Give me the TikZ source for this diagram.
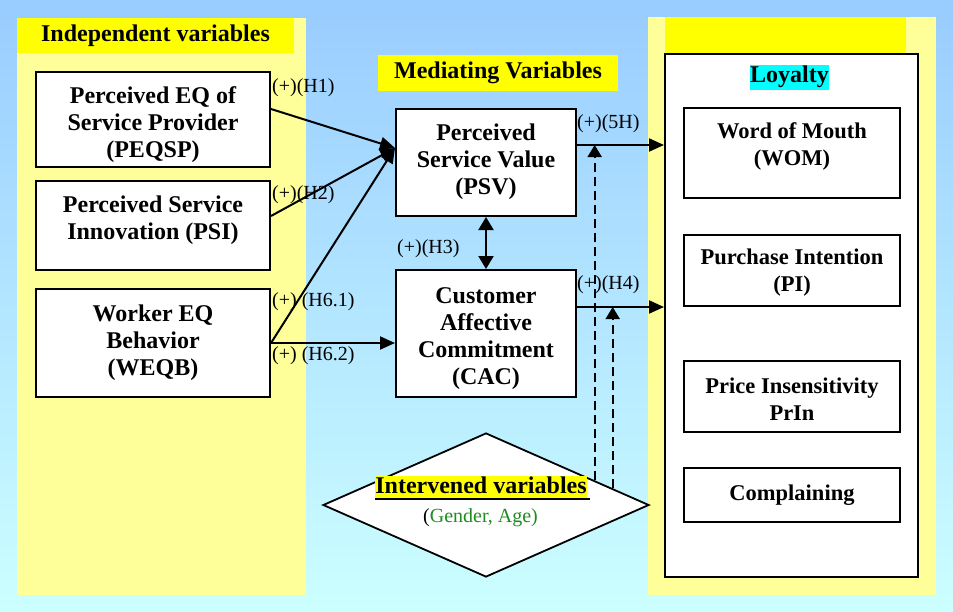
\documentclass[tikz,border=0pt]{standalone}
\usepackage{fontspec}
\setmainfont{Liberation Serif}
\usetikzlibrary{arrows.meta,shapes.geometric,calc}
\definecolor{skytop}{HTML}{99CCFF}
\definecolor{skybot}{HTML}{CCFFFF}
\definecolor{paleyel}{HTML}{FFFF99}
\definecolor{hdryel}{HTML}{FFFF00}
\definecolor{loycyan}{HTML}{00FFFF}
\definecolor{agegreen}{HTML}{1E8C1E}

\begin{document}
\begin{tikzpicture}[x=1pt,y=-1pt,
  bigfont/.style={font=\bfseries\fontsize{24}{27}\selectfont},
  subfont/.style={font=\bfseries\fontsize{22.5}{27}\selectfont},
  hdr/.style={fill=hdryel,inner sep=0pt,bigfont},
  box/.style={draw,fill=white,line width=2pt,inner sep=0pt},
  txt/.style={inner sep=0pt,align=center},
  lbl/.style={inner sep=0pt,anchor=west,font=\fontsize{20}{22}\selectfont},
  conn/.style={line width=2pt,-{Triangle[length=15pt,width=13pt]}},
  dbl/.style={line width=2pt,{Triangle[length=13pt,width=15pt]}-{Triangle[length=13pt,width=15pt]}},
  dashlink/.style={line width=2pt,dash pattern=on 9pt off 5pt,-{Triangle[length=12pt,width=14pt]}}
]
\useasboundingbox (0,0) rectangle (953,611);
% sky gradient background
\shade[top color=skytop,bottom color=skybot] (0,0) rectangle (953,611);

% side panels
\fill[paleyel] (17,18) rectangle (306,595);
\fill[paleyel] (648,17) rectangle (936,595);

% panel headers
\node[hdr,minimum width=277pt,minimum height=35pt] (indephdr) at (155.5,35.5) {Independent variables};
\node[hdr,minimum width=240pt,minimum height=36pt] (medhdr) at (498,73) {Mediating Variables};
\node[hdr,minimum width=241pt,minimum height=36pt] (loyhdr) at (785.5,35) {};

% independent variables
\node[box,minimum width=234pt,minimum height=95pt] (peqsp) at (153,119.5) {};
\node[txt,bigfont] (peqsptext) at (153,125) {Perceived EQ of\\Service Provider\\(PEQSP)};
\node[box,minimum width=234pt,minimum height=89pt] (psi) at (153,225.5) {};
\node[txt,bigfont] (psitext) at (153,220.5) {Perceived Service\\Innovation (PSI)};
\node[box,minimum width=234pt,minimum height=108pt] (weqb) at (153,343) {};
\node[txt,bigfont] (weqbtext) at (153,343) {Worker EQ\\Behavior\\(WEQB)};

% mediating variables
\node[box,minimum width=180pt,minimum height=107pt] (psv) at (486,162.5) {};
\node[txt,bigfont] (psvtext) at (486,162) {Perceived\\Service Value\\(PSV)};
\node[box,minimum width=180pt,minimum height=127pt] (cac) at (486,333.5) {};
\node[txt,bigfont] (cactext) at (486,339) {Customer\\Affective\\Commitment\\(CAC)};

% loyalty block
\node[box,minimum width=253pt,minimum height=523pt] (loyal) at (791.5,315.5) {};
\node[fill=loycyan,inner sep=0.5pt,text height=17pt,text depth=7pt,bigfont] (loytitle) at (789.5,77) {Loyalty};
\node[box,minimum width=216pt,minimum height=90pt] (wom) at (792,153) {};
\node[txt,subfont] (womtext) at (792,146) {Word of Mouth\\(WOM)};
\node[box,minimum width=216pt,minimum height=71pt] (pi) at (792,270) {};
\node[txt,subfont] (pitext) at (792,272.5) {Purchase Intention\\(PI)};
\node[box,minimum width=216pt,minimum height=71pt] (prin) at (792,396.5) {};
\node[txt,subfont] (printext) at (792,399) {Price Insensitivity\\PrIn};
\node[box,minimum width=216pt,minimum height=54pt] (compl) at (792,495) {};
\node[txt,subfont] (compltext) at (792,495) {Complaining};

% intervening variables
\node[diamond,draw,fill=white,line width=1.8pt,inner sep=0pt,minimum width=326pt,minimum height=144pt] (moder) at (486,505) {};
\node[fill=hdryel,inner sep=0pt,text height=17pt,text depth=7pt,bigfont] (ivtitle) at (481,488) {Intervened variables};
\draw[line width=2pt] ([yshift=1.5pt]ivtitle.south west) -- ([xshift=3pt,yshift=1.5pt]ivtitle.south east);
\node[txt,font=\fontsize{20}{22}\selectfont] (ivsub) at (480.5,518) {(\textcolor{agegreen}{Gender, Age)}};

% paths into PSV
\coordinate (psvin) at ([yshift=14.5pt]psv.west);
\draw[conn] ([yshift=10.5pt]peqsp.east) -- (psvin);
\draw[conn] ([yshift=9.5pt]psi.east) -- (psvin);
\draw[conn] (weqb.east) -- (psvin);
\draw[conn] (weqb.east) -- (weqb.east -| cac.west);
\draw[dbl] (psv.south) -- (cac.north);

% paths into loyalty
\coordinate (psvout) at ([yshift=17.5pt]psv.east);
\coordinate (cacout) at ([yshift=26.5pt]cac.east);
\draw[conn] (psvout) -- (psvout -| loyal.west);
\draw[conn] (cacout) -- (cacout -| loyal.west);

% moderating effects
\coordinate (d1) at ($(moder.north)!0.663!(moder.east)$);
\coordinate (d2) at ($(moder.north)!0.773!(moder.east)$);
\draw[dashlink] (d1) -- (d1 |- psvout);
\draw[dashlink] (d2) -- (d2 |- cacout);

% hypothesis labels
\node[lbl] (h1) at (272,88) {(+)(H1)};
\node[lbl] (h2) at (272,195) {(+)(H2)};
\node[lbl] (h61) at (272,302) {(+) (H6.1)};
\node[lbl] (h62) at (272,356) {(+) (H6.2)};
\node[lbl] (h3) at (397,249) {(+)(H3)};
\node[lbl] (h5) at (577,124) {(+)(5H)};
\node[lbl] (h4) at (577,285) {(+)(H4)};
\end{tikzpicture}
\end{document}
